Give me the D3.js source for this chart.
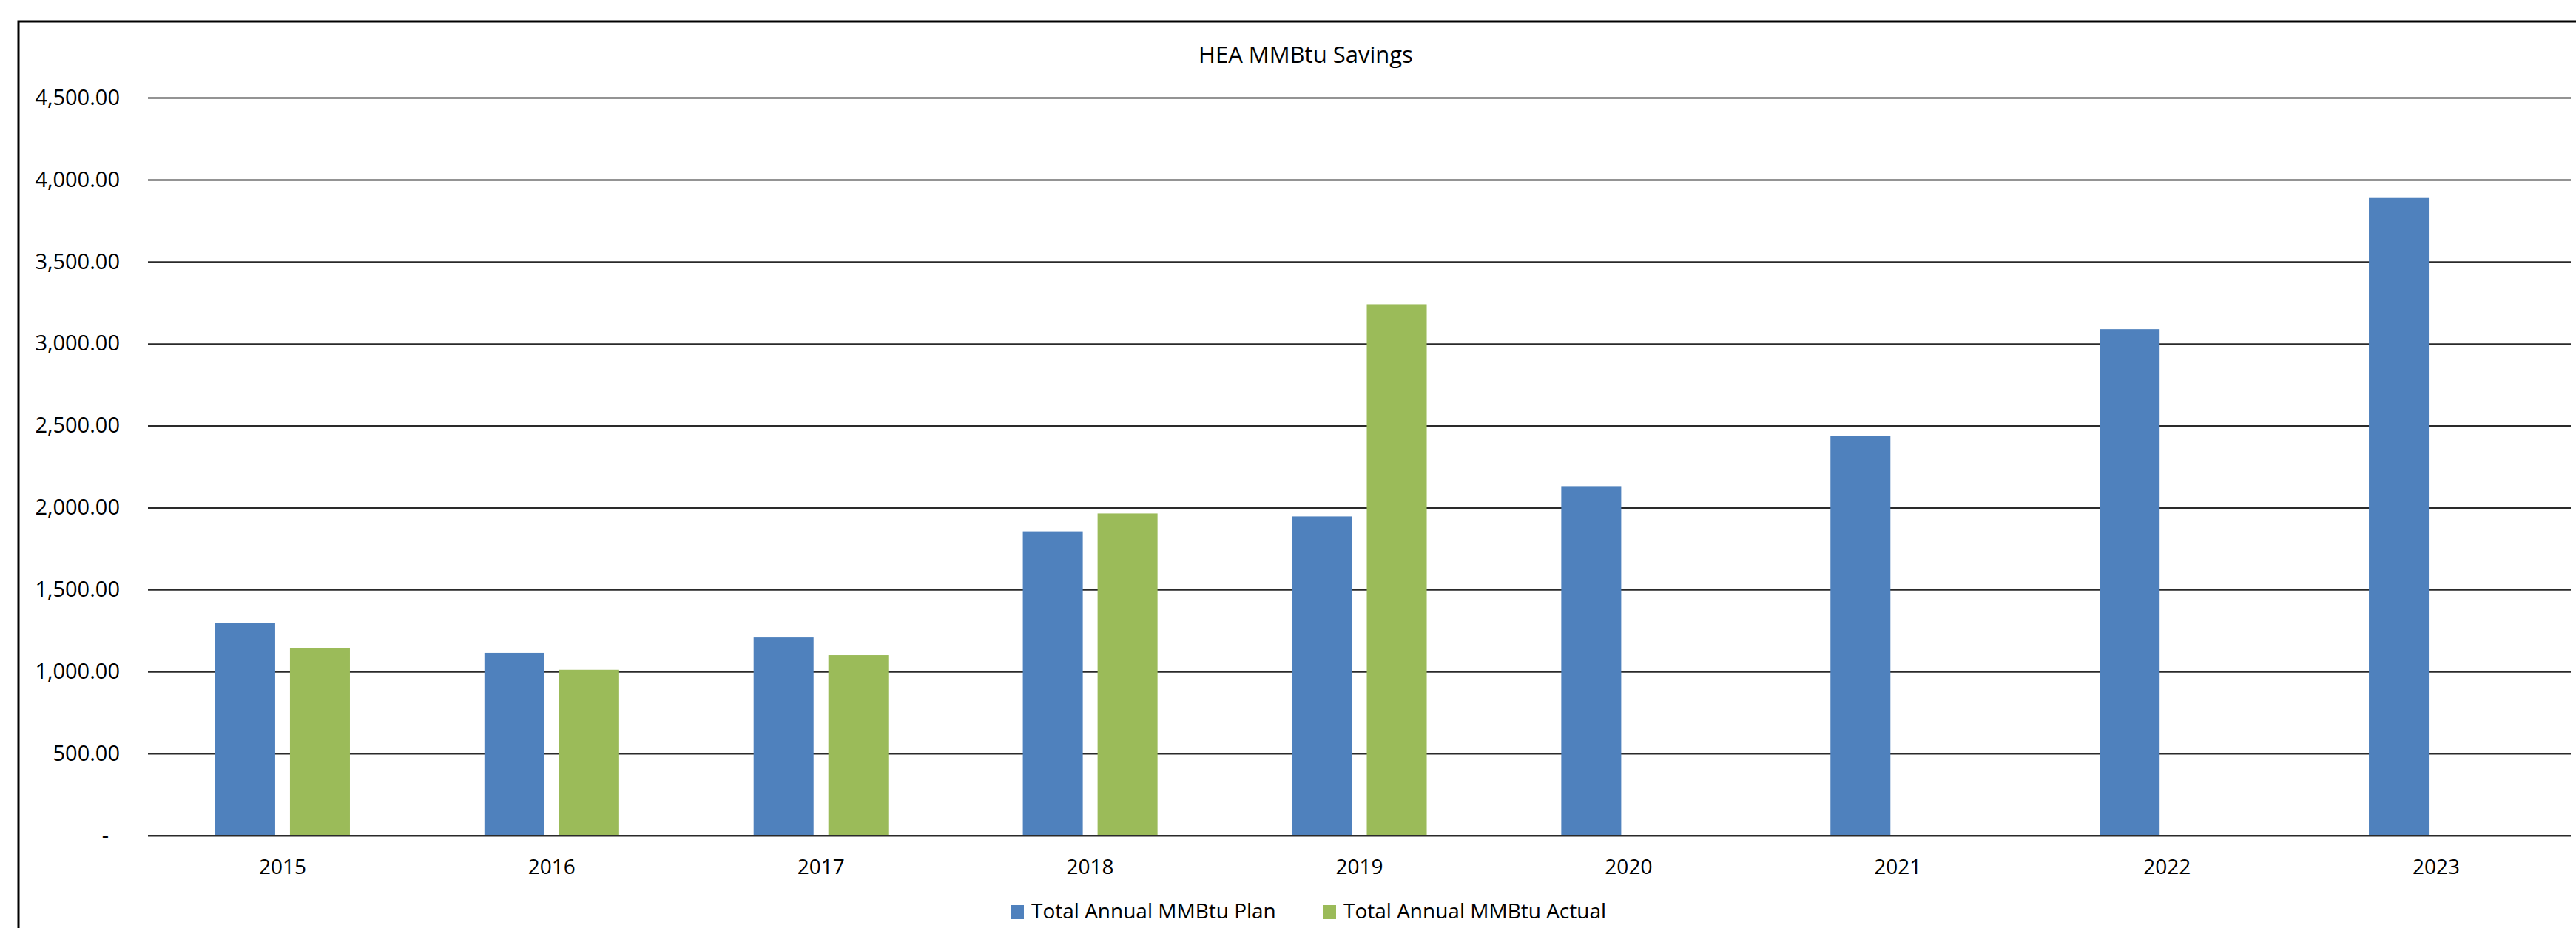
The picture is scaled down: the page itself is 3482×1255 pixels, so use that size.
<!DOCTYPE html>
<html>
<head>
<meta charset="utf-8">
<script src="https://cdn.jsdelivr.net/npm/d3@7"></script>
<style>
  html, body { margin: 0; padding: 0; background: #fff; }
  svg { display: block; }
  text { font-family: "Open Sans", "Noto Sans", sans-serif; fill: #000; }
</style>
</head>
<body>
<svg id="chart" width="3482" height="1255"></svg>
<script>
// Chart data
const years = ["2015", "2016", "2017", "2018", "2019", "2020", "2021", "2022", "2023"];
const planValues = [1295, 1114, 1208, 1855, 1946, 2131, 2438, 3088, 3888];
const actualValues = [1145, 1011, 1100, 1964, 3240, null, null, null, null];
const seriesNames = ["Total Annual MMBtu Plan", "Total Annual MMBtu Actual"];
const seriesColors = ["#4F81BD", "#9BBB59"];
const yTicks = [0, 500, 1000, 1500, 2000, 2500, 3000, 3500, 4000, 4500];
const chartTitle = "HEA MMBtu Savings";

const W = 3482, H = 1255;
const plot = { left: 200, right: 3475, top: 132, bottom: 1130 };

const svg = d3.select("#chart");
svg.append("rect").attr("width", W).attr("height", H).attr("fill", "#fff");

// Outer chart frame (runs off the right and bottom edges)
svg.append("rect")
  .attr("x", 25).attr("y", 29)
  .attr("width", 3482).attr("height", 1400)
  .attr("fill", "none").attr("stroke", "#000").attr("stroke-width", 3);

// Title
svg.append("text")
  .attr("x", 1765).attr("y", 85)
  .attr("text-anchor", "middle")
  .attr("font-size", 31)
  .text(chartTitle);

// Scales
const x0 = d3.scaleBand().domain(years).range([plot.left, plot.right]);
const x1 = d3.scaleBand().domain([0, 1]).range([0, x0.bandwidth()])
  .paddingInner(0.198).paddingOuter(0.9);
const y = d3.scaleLinear().domain([0, 4500]).range([plot.bottom, plot.top]);

// Gridlines and value labels
const fmt = d3.format(",.2f");
const yAxis = d3.axisLeft(y)
  .tickValues(yTicks)
  .tickSize(-(plot.right - plot.left))
  .tickPadding(38)
  .tickFormat(d => d === 0 ? "-" : fmt(d));

const yg = svg.append("g")
  .attr("transform", `translate(${plot.left},0)`)
  .call(yAxis);
yg.select(".domain").remove();
yg.selectAll(".tick line")
  .attr("stroke", "#2a2a2a").attr("stroke-width", 2);
yg.selectAll(".tick text")
  .attr("font-size", 29)
  .attr("font-family", "'Open Sans', 'Noto Sans', sans-serif")
  .attr("fill", "#000")
  .attr("dx", d => d === 0 ? -15 : 0);

// Bars
const seriesData = [planValues, actualValues];
seriesData.forEach((vals, si) => {
  svg.append("g")
    .selectAll("rect")
    .data(years.map((yr, i) => ({ yr, v: vals[i] })).filter(d => d.v != null))
    .join("rect")
    .attr("x", d => x0(d.yr) + x1(si))
    .attr("width", x1.bandwidth())
    .attr("y", d => y(d.v))
    .attr("height", d => y(0) - y(d.v))
    .attr("fill", seriesColors[si]);
});

// Baseline drawn over the bars
svg.append("line")
  .attr("x1", plot.left).attr("x2", plot.right)
  .attr("y1", y(0)).attr("y2", y(0))
  .attr("stroke", "#2a2a2a").attr("stroke-width", 2);

// Category labels
svg.append("g")
  .selectAll("text")
  .data(years)
  .join("text")
  .attr("x", d => x0(d) + x0.bandwidth() / 2)
  .attr("y", 1182)
  .attr("text-anchor", "middle")
  .attr("font-size", 28)
  .text(d => d);

// Legend
const legendX = [1366, 1788];
const legend = svg.append("g");
seriesNames.forEach((name, i) => {
  legend.append("rect")
    .attr("x", legendX[i]).attr("y", 1224)
    .attr("width", 18).attr("height", 19)
    .attr("fill", seriesColors[i]);
  legend.append("text")
    .attr("x", legendX[i] + 28).attr("y", 1242)
    .attr("font-size", 28)
    .text(name);
});
</script>
</body>
</html>
